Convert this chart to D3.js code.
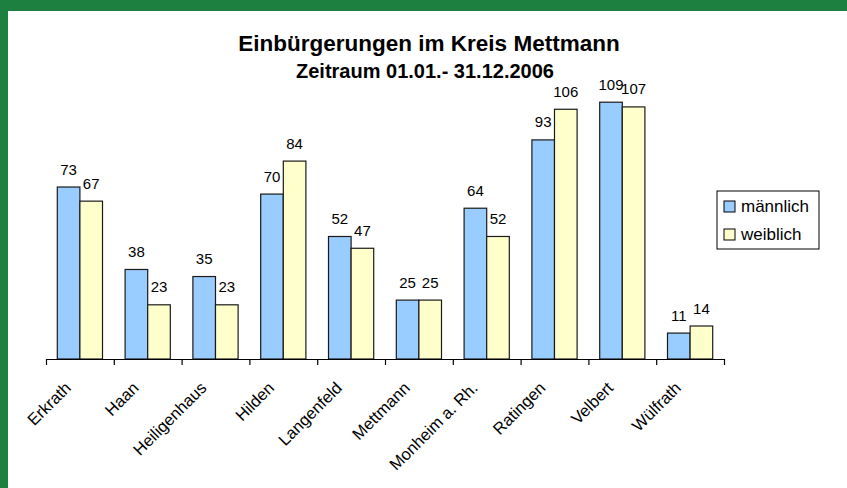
<!DOCTYPE html>
<html lang="de">
<head>
<meta charset="UTF-8">
<title>Einbürgerungen im Kreis Mettmann</title>
<script src="https://d3js.org/d3.v7.min.js"></script>
<style>
    body { margin: 0; background: #fff; }
    svg text { font-family: "Liberation Sans", Arial, sans-serif; fill: #000; }
</style>
</head>
<body>
<svg width="847" height="488"></svg>
<script>
    // data
    const orte = ["Erkrath", "Haan", "Heiligenhaus", "Hilden", "Langenfeld", "Mettmann",
        "Monheim a. Rh.", "Ratingen", "Velbert", "Wülfrath"];
    const maennlich = [73, 38, 35, 70, 52, 25, 64, 93, 109, 11];
    const weiblich = [67, 23, 23, 84, 47, 25, 52, 106, 107, 14];
    const serien = ["männlich", "weiblich"];
    const farben = ["#99ccff", "#ffffcc"];

    const svg = d3.select("svg");

    // green frame top and left
    svg.append("rect").attr("x", 0).attr("y", 0).attr("width", 847).attr("height", 11).attr("fill", "#1d7f40");
    svg.append("rect").attr("x", 0).attr("y", 0).attr("width", 8).attr("height", 488).attr("fill", "#1d7f40");

    const left = 46, right = 724, base = 359;

    const x0 = d3.scaleBand().domain(orte).range([left, right]).padding(0);
    const x1 = d3.scaleBand().domain(serien).range([0, x0.bandwidth()]).paddingInner(0).paddingOuter(0.5);
    const y = d3.scaleLinear().domain([0, 120]).range([base, base - 120 * 2.356]);
    const color = d3.scaleOrdinal().domain(serien).range(farben);

    const rows = orte.map((o, i) => ({ ort: o, werte: [
        { s: "männlich", v: maennlich[i] },
        { s: "weiblich", v: weiblich[i] }
    ]}));

    // title
    svg.append("text").attr("x", 429).attr("y", 51).attr("text-anchor", "middle")
        .style("font-size", "22.5px").style("font-weight", "bold")
        .text("Einbürgerungen im Kreis Mettmann");
    svg.append("text").attr("x", 425).attr("y", 78).attr("text-anchor", "middle")
        .style("font-size", "20px").style("font-weight", "bold")
        .text("Zeitraum 01.01.- 31.12.2006");

    // bars
    const groups = svg.append("g").selectAll("g")
        .data(rows).enter().append("g")
        .attr("transform", d => "translate(" + x0(d.ort) + ",0)");

    groups.selectAll("rect")
        .data(d => d.werte).enter().append("rect")
        .attr("x", d => x1(d.s))
        .attr("y", d => y(d.v))
        .attr("width", x1.bandwidth())
        .attr("height", d => base - y(d.v))
        .attr("fill", d => color(d.s))
        .attr("stroke", "#1a1a1a")
        .attr("stroke-width", 1.2);

    groups.selectAll("text.val")
        .data(d => d.werte).enter().append("text")
        .attr("class", "val")
        .attr("x", d => x1(d.s) + x1.bandwidth() / 2)
        .attr("y", d => y(d.v) - 12.5)
        .attr("text-anchor", "middle")
        .style("font-size", "15px")
        .text(d => d.v);

    // category axis with ticks between categories
    const tickScale = d3.scaleLinear().domain([0, orte.length]).range([left, right]);
    svg.append("g")
        .attr("transform", "translate(0," + base + ")")
        .call(d3.axisBottom(tickScale).tickValues(d3.range(0, orte.length + 1))
            .tickFormat("").tickSize(6).tickSizeOuter(0))
        .call(g => g.selectAll("path, line").attr("stroke", "#000").attr("stroke-width", 1.2));

    // rotated labels
    svg.append("g").selectAll("text")
        .data(orte).enter().append("text")
        .attr("text-anchor", "end")
        .attr("transform", d => "translate(" + (x0(d) + x0.bandwidth() / 2 - 8) + ",389) rotate(-45)")
        .style("font-size", "16.5px")
        .text(d => d);

    // legend
    const lg = svg.append("g").attr("transform", "translate(717,191)");
    lg.append("rect").attr("width", 102).attr("height", 58)
        .attr("fill", "#fff").attr("stroke", "#000").attr("stroke-width", 1);
    const items = lg.selectAll("g").data(serien).enter().append("g")
        .attr("transform", (d, i) => "translate(7," + (10 + i * 28) + ")");
    items.append("rect").attr("width", 11).attr("height", 11)
        .attr("fill", d => color(d)).attr("stroke", "#000").attr("stroke-width", 1);
    items.append("text").attr("x", 17).attr("y", 11)
        .style("font-size", "17px").text(d => d);
</script>
</body>
</html>
